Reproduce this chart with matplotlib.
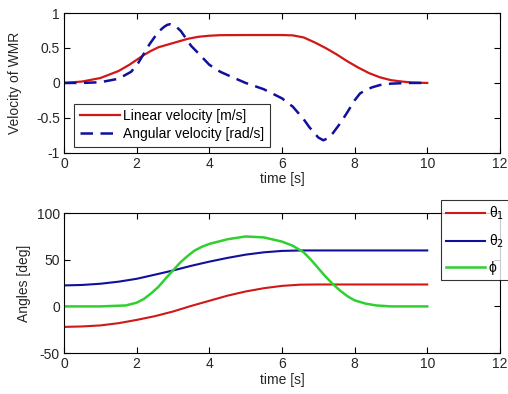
import matplotlib
matplotlib.use("Agg")
import matplotlib.pyplot as plt

# --- data ---
t_lin = [0, 0.5, 1, 1.5, 1.8, 2.0, 2.2, 2.4, 2.6, 2.8, 3.0, 3.4, 3.7, 4.0,
         4.3, 5, 5.5, 6.0, 6.3, 6.6, 6.9, 7.2, 7.5, 7.8, 8.1, 8.4, 8.7, 9.0,
         9.3, 9.6, 10]
v_lin = [0, 0.02, 0.07, 0.17, 0.26, 0.33, 0.40, 0.46, 0.51, 0.54, 0.57, 0.63,
         0.66, 0.675, 0.683, 0.685, 0.685, 0.685, 0.68, 0.65, 0.58, 0.50,
         0.41, 0.31, 0.22, 0.14, 0.08, 0.04, 0.02, 0.005, 0]

t_ang = [0, 0.5, 1.0, 1.5, 1.85, 2.05, 2.2, 2.35, 2.5, 2.62, 2.75, 2.84, 2.92,
         3.0, 3.1, 3.22, 3.38, 3.5, 3.65, 4.0, 4.3, 4.6, 5.0, 5.5, 6.0, 6.3,
         6.6, 6.75, 6.9, 7.0, 7.14, 7.27, 7.4, 7.6, 7.8, 8.0, 8.15, 8.35, 8.5,
         8.7, 9.0, 9.5, 10]
v_ang = [0, 0, 0.01, 0.06, 0.16, 0.29, 0.42, 0.55, 0.66, 0.74, 0.80, 0.83,
         0.84, 0.83, 0.80, 0.74, 0.62, 0.53, 0.45, 0.26, 0.16, 0.09, 0.0,
         -0.09, -0.22, -0.34, -0.52, -0.63, -0.72, -0.78, -0.82, -0.79, -0.72,
         -0.58, -0.42, -0.25, -0.15, -0.09, -0.06, -0.03, -0.01, 0, 0]

t_th1 = [0, 0.5, 1, 1.5, 2.0, 2.5, 3.0, 3.5, 4.0, 4.5, 5.0, 5.5, 6.0, 6.5, 7, 10]
theta1 = [-22, -21.5, -20.4, -18, -14.5, -10.5, -5.5, 0.5, 6, 11.5, 16, 19.5,
          22, 23.3, 23.5, 23.5]

t_th2 = [0, 0.5, 1, 1.5, 2.0, 2.5, 3, 3.5, 4, 4.5, 5, 5.5, 6, 6.5, 7, 10]
theta2 = [22.5, 23, 24.3, 26.5, 29.6, 34, 38.5, 43.5, 48, 52, 55.5, 58, 59.5,
          60, 60, 60]

t_phi = [0, 1, 1.7, 2.0, 2.2, 2.4, 2.6, 2.8, 3.0, 3.2, 3.4, 3.6, 3.8, 4.0,
         4.5, 5.0, 5.5, 6.0, 6.3, 6.6, 6.8, 7.0, 7.2, 7.4, 7.6, 7.8, 8.0, 8.3,
         8.6, 9, 10]
phi = [0, 0, 1, 4, 8, 14, 21, 30, 38.6, 47, 54, 60, 64, 67, 72, 75, 74, 69.5,
       65, 58, 50, 41, 32, 24, 17, 11, 6.5, 3, 1, 0, 0]

x_ticks = [0, 2, 4, 6, 8, 10, 12]
vel_ticks = [-1, -0.5, 0, 0.5, 1]
vel_tick_labels = ['-1', '-0.5', '0', '0.5', '1']
ang_ticks = [-50, 0, 50, 100]

plt.rcParams['font.family'] = ['Liberation Sans', 'DejaVu Sans']
plt.rcParams['font.size'] = 10
plt.rcParams['mathtext.fontset'] = 'dejavusans'
plt.rcParams['axes.unicode_minus'] = False

text_col = '#262626'
red = '#d01818'
blue = '#10109c'
green = '#30d030'

fig = plt.figure(figsize=(5.08, 3.94), dpi=100)
ax1 = fig.add_axes([0.126, 0.612, 0.858, 0.355])
ax2 = fig.add_axes([0.126, 0.104, 0.858, 0.355])

# top: velocities
ax1.plot(t_lin, v_lin, color=red, lw=1.6, label='Linear velocity [m/s]')
ax1.plot(t_ang, v_ang, color=blue, lw=1.8, dashes=(5, 3),
         label='Angular velocity [rad/s]')
ax1.set_xlim(0, 12)
ax1.set_ylim(-1, 1)
ax1.set_yticks(vel_ticks)
ax1.set_yticklabels(vel_tick_labels)
ax1.set_ylabel('Velocity of WMR', color=text_col, labelpad=10)
ax1.set_xlabel('time [s]', color=text_col, labelpad=1)
leg1 = ax1.legend(loc='lower left', bbox_to_anchor=(0.023, 0.043),
                  frameon=True, fancybox=False, edgecolor='black',
                  borderaxespad=0, handlelength=2.9, handletextpad=0.25,
                  labelspacing=0.3, borderpad=0.4, fontsize=10)
leg1.get_frame().set_linewidth(0.8)

# bottom: angles
ax2.plot(t_th1, theta1, color=red, lw=1.5, label='θ$_1$')
ax2.plot(t_th2, theta2, color=blue, lw=1.5, label='θ$_2$')
ax2.plot(t_phi, phi, color=green, lw=1.8, label='ϕ')
ax2.set_xlim(0, 12)
ax2.set_ylim(-50, 100)
ax2.set_yticks(ang_ticks)
ax2.set_ylabel('Angles [deg]', color=text_col)
ax2.set_xlabel('time [s]', color=text_col, labelpad=1)
leg2 = ax2.legend(loc='upper left', bbox_to_anchor=(0.865, 1.093),
                  frameon=True, fancybox=False, edgecolor='black',
                  borderaxespad=0, handlelength=2.8, handletextpad=0.3,
                  labelspacing=0.75, borderpad=0.35, fontsize=10)
leg2.get_frame().set_linewidth(0.8)

for ax in (ax1, ax2):
    ax.set_xticks(x_ticks)
    ax.tick_params(direction='in', top=True, right=True, length=4,
                   width=0.8, labelcolor=text_col, pad=3)
    for s in ax.spines.values():
        s.set_linewidth(0.8)

fig.savefig('out.png', dpi=100)
